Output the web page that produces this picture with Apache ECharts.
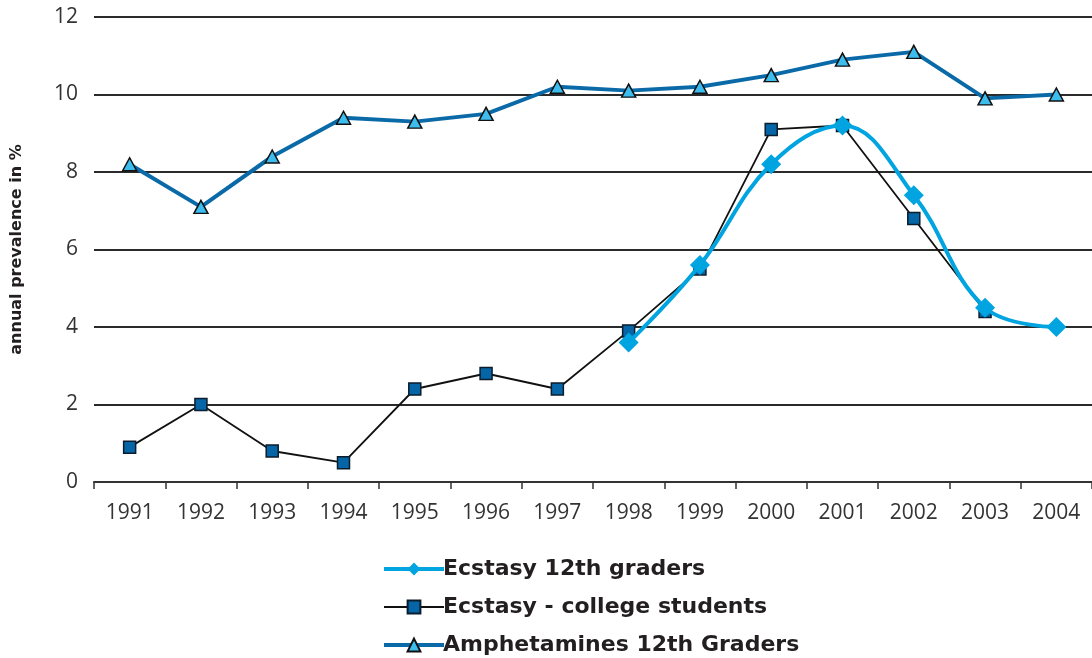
<!DOCTYPE html>
<html>
<head>
<meta charset="utf-8">
<script src="https://cdn.jsdelivr.net/npm/echarts@6/dist/echarts.min.js"></script>
<style>
  html, body { margin: 0; padding: 0; background: #fff; }
  #chart { width: 1092px; height: 658px; }
</style>
</head>
<body>
<div id="chart"></div>
<script>
// Survey years on the category axis
const years = ['1991', '1992', '1993', '1994', '1995', '1996', '1997',
               '1998', '1999', '2000', '2001', '2002', '2003', '2004'];

// Annual prevalence, percent (null = not surveyed)
const ecstasy12th = [null, null, null, null, null, null, null,
                     3.6, 5.6, 8.2, 9.2, 7.4, 4.5, 4.0];
const ecstasyCollege = [0.9, 2.0, 0.8, 0.5, 2.4, 2.8, 2.4,
                        3.9, 5.5, 9.1, 9.2, 6.8, 4.4, null];
const amphetamines12th = [8.2, 7.1, 8.4, 9.4, 9.3, 9.5, 10.2,
                          10.1, 10.2, 10.5, 10.9, 11.1, 9.9, 10.0];

// Value axis ticks
const yTicks = [0, 2, 4, 6, 8, 10, 12];

const seriesNames = ['Ecstasy 12th graders', 'Ecstasy - college students', 'Amphetamines 12th Graders'];

const chart = echarts.init(document.getElementById('chart'), null, { renderer: 'canvas' });

const axisFont = { fontFamily: 'Open Sans', fontSize: 21, color: '#333' };

chart.setOption({
  animation: false,
  backgroundColor: '#fff',
  grid: { left: 94, right: -2, top: 17, bottom: 176, containLabel: false },
  xAxis: {
    type: 'category',
    data: years,
    boundaryGap: true,
    axisLine: { lineStyle: { color: '#333', width: 2 } },
    axisTick: { show: true, length: 7, lineStyle: { color: '#333', width: 1.5 } },
    axisLabel: Object.assign({ margin: 21 }, axisFont),
    splitLine: { show: false }
  },
  yAxis: {
    type: 'value',
    min: yTicks[0],
    max: yTicks[yTicks.length - 1],
    interval: 2,
    name: 'annual prevalence in %',
    nameLocation: 'middle',
    nameGap: 69,
    nameRotate: 90,
    nameTextStyle: { fontFamily: 'DejaVu Sans', fontWeight: 'bold', fontSize: 16, color: '#231f20' },
    axisLine: { show: false },
    axisTick: { show: false },
    axisLabel: Object.assign({ margin: 16 }, axisFont),
    splitLine: { lineStyle: { color: '#2a2a2a', width: 2 } }
  },
  legend: {
    data: [
      { name: seriesNames[0], lineStyle: { width: 4 } },
      { name: seriesNames[1], lineStyle: { width: 2 } },
      { name: seriesNames[2], lineStyle: { width: 4 } }
    ],
    orient: 'vertical',
    left: 382,
    top: 558,
    height: 100,
    padding: 0,
    itemWidth: 60,
    itemHeight: 16,
    itemGap: 16,
    textStyle: { fontFamily: 'DejaVu Sans', fontWeight: 'bold', fontSize: 22, color: '#231f20', padding: [0, 0, 0, -6] }
  },
  series: [
    {
      name: seriesNames[2],
      type: 'line',
      data: amphetamines12th,
      z: 2,
      symbol: 'triangle',
      symbolSize: [14, 13],
      lineStyle: { color: '#0a6aa8', width: 4 },
      itemStyle: { color: '#3dbdee', borderColor: '#111', borderWidth: 1.5 }
    },
    {
      name: seriesNames[1],
      type: 'line',
      data: ecstasyCollege,
      z: 3,
      symbol: 'rect',
      symbolSize: 12,
      lineStyle: { color: '#111', width: 1.8 },
      itemStyle: { color: '#0565a6', borderColor: '#0b1c2c', borderWidth: 1.5 }
    },
    {
      name: seriesNames[0],
      type: 'line',
      data: ecstasy12th,
      z: 4,
      smooth: 0.4,
      symbol: 'diamond',
      symbolSize: 20,
      lineStyle: { color: '#00a4e0', width: 4 },
      itemStyle: { color: '#00a4e0', borderWidth: 0 }
    }
  ]
});
</script>
</body>
</html>
